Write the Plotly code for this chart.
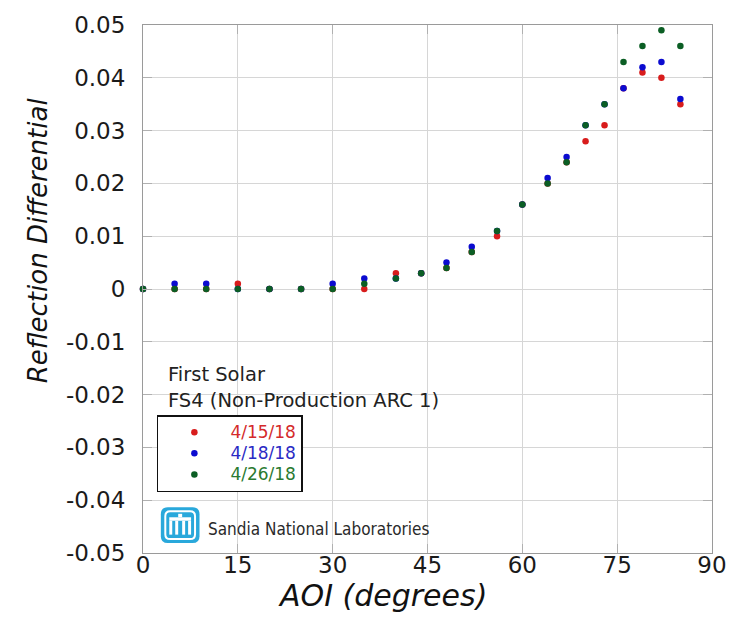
import plotly.graph_objects as go

# Angle of incidence (degrees) for each measurement
aoi = [0, 5, 10, 15, 20, 25, 30, 35, 40, 44, 48, 52, 56, 60, 64, 67, 70, 73, 76, 79, 82, 85]

# Reflection differential per measurement date
refl_0415 = [0, 0, 0, 0.001, 0, 0, 0, 0, 0.003, 0.003, 0.004, 0.007, 0.010, 0.016,
             0.020, 0.024, 0.028, 0.031, 0.038, 0.041, 0.040, 0.035]
refl_0418 = [0, 0.001, 0.001, 0, 0, 0, 0.001, 0.002, 0.002, 0.003, 0.005, 0.008, 0.011, 0.016,
             0.021, 0.025, 0.031, 0.035, 0.038, 0.042, 0.043, 0.036]
refl_0426 = [0, 0, 0, 0, 0, 0, 0, 0.001, 0.002, 0.003, 0.004, 0.007, 0.011, 0.016,
             0.020, 0.024, 0.031, 0.035, 0.043, 0.046, 0.049, 0.046]

series_names = ["4/15/18", "4/18/18", "4/26/18"]
series_colors = ["#d81c1c", "#0b0bd0", "#0b5e24"]
label_colors = ["#d42a2a", "#2a2ac4", "#2a7a30"]

x_ticks = [0, 15, 30, 45, 60, 75, 90]
x_tick_labels = ["0", "15", "30", "45", "60", "75", "90"]
y_ticks = [0.05, 0.04, 0.03, 0.02, 0.01, 0, -0.01, -0.02, -0.03, -0.04, -0.05]
y_tick_labels = ["0.05", "0.04", "0.03", "0.02", "0.01", "0",
                 "-0.01", "-0.02", "-0.03", "-0.04", "-0.05"]

W, H = 739, 627
ML, MR, MT, MB = 143, 22, 21, 74
PW, PH = W - ML - MR, H - MT - MB
FONT = "DejaVu Sans"


def px(x):
    return (x - ML) / PW


def py(y):
    return (H - MB - y) / PH


fig = go.Figure()
for name, vals, col, lcol in zip(series_names, [refl_0415, refl_0418, refl_0426],
                                 series_colors, label_colors):
    fig.add_trace(go.Scatter(
        x=aoi, y=vals, mode="markers", cliponaxis=False,
        name=f'<span style="color:{lcol};font-size:17px">{name}</span>',
        marker=dict(size=6.5, color=col),
    ))

axis_common = dict(
    showline=True, linecolor="#9a9a9a", linewidth=1, mirror="ticks",
    showgrid=True, gridcolor="#d6d6d6", gridwidth=1,
    ticks="inside", ticklen=9, tickcolor="#b0b0b0", tickwidth=1,
    zeroline=False,
    tickfont=dict(family=FONT, size=23, color="#1a1a1a"),
)

fig.update_xaxes(range=[0, 90], tickvals=x_ticks, ticktext=x_tick_labels,
                 ticklabelstandoff=-9, **axis_common)
fig.update_yaxes(range=[-0.05, 0.05], tickvals=y_ticks, ticktext=y_tick_labels,
                 ticklabelstandoff=12, **axis_common)


def note(text, x, y, size, xanchor="center", angle=0, family=FONT, color="#111", **kw):
    return dict(text=text, x=px(x), y=py(y), xref="paper", yref="paper",
                xanchor=xanchor, yanchor="middle", textangle=angle, showarrow=False,
                font=dict(family=family, size=size, color=color, **kw))


annotations = [
    note("<i>Reflection Differential</i>", 37, 238, 26, angle=-90),
    note("<i>AOI (degrees)</i>", 385, 596, 30),
    note("First Solar", 166, 373.5, 19.5, xanchor="left", color="#222"),
    note("FS4 (Non-Production ARC 1)", 166, 399, 19.5, xanchor="left", color="#222"),
    note('<span style="font-stretch:condensed">Sandia National Laboratories</span>',
         207, 529, 17, xanchor="left", color="#2a2a2a",
         family="DejaVu Sans Condensed, Liberation Sans Narrow, Roboto Condensed, DejaVu Sans"),
]


# Sandia thunderbird emblem
def rrect_path(x0, y0, x1, y1, r):
    pts = [
        f"M {px(x0 + r)} {py(y0)}",
        f"L {px(x1 - r)} {py(y0)}",
        f"Q {px(x1)} {py(y0)} {px(x1)} {py(y0 + r)}",
        f"L {px(x1)} {py(y1 - r)}",
        f"Q {px(x1)} {py(y1)} {px(x1 - r)} {py(y1)}",
        f"L {px(x0 + r)} {py(y1)}",
        f"Q {px(x0)} {py(y1)} {px(x0)} {py(y1 - r)}",
        f"L {px(x0)} {py(y0 + r)}",
        f"Q {px(x0)} {py(y0)} {px(x0 + r)} {py(y0)}",
        "Z",
    ]
    return " ".join(pts)


CYAN = "#29a8db"
shapes = [
    dict(type="path", path=rrect_path(161, 507, 200, 543, 7), fillcolor=CYAN,
         line=dict(width=0), xref="paper", yref="paper"),
    dict(type="path", path=rrect_path(165.5, 511, 195.5, 539, 5), fillcolor="rgba(0,0,0,0)",
         line=dict(color="white", width=2), xref="paper", yref="paper"),
]
for (x0, y0, x1, y1) in [(178.5, 513.5, 182.5, 517), (169.5, 517, 191.5, 520.5),
                         (169.5, 520.5, 172.5, 534.5), (188.5, 520.5, 191.5, 534.5),
                         (175.5, 520.5, 178.5, 534.5), (182.5, 520.5, 185.5, 534.5)]:
    shapes.append(dict(type="rect", x0=px(x0), x1=px(x1), y0=py(y1), y1=py(y0),
                       xref="paper", yref="paper", fillcolor="white", line=dict(width=0)))

fig.update_layout(
    width=W, height=H,
    margin=dict(l=ML, r=MR, t=MT, b=MB),
    paper_bgcolor="white", plot_bgcolor="white",
    showlegend=True,
    legend=dict(
        x=px(157), y=py(414), xanchor="left", yanchor="top",
        bordercolor="#111", borderwidth=1.5, bgcolor="white",
        itemwidth=62, font=dict(family=FONT, size=14),
        tracegroupgap=0,
    ),
    annotations=annotations,
    shapes=shapes,
)

fig.write_html("out.html")
